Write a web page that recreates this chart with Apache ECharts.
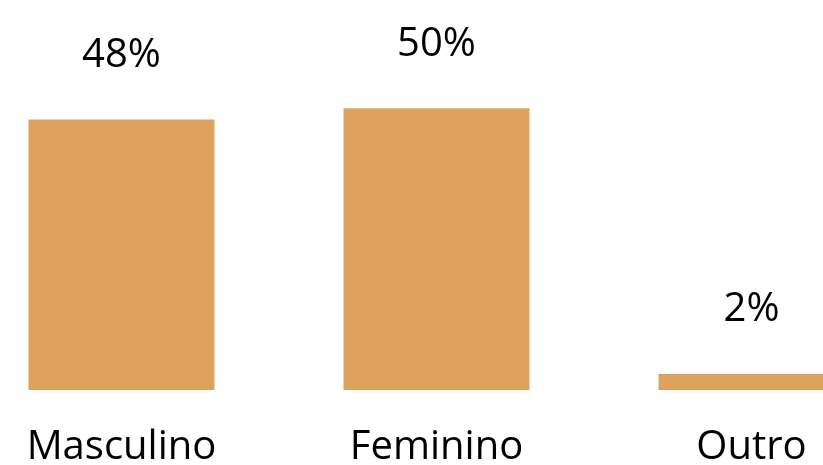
<!DOCTYPE html>
<html>
<head>
<meta charset="utf-8">
<script src="https://cdn.jsdelivr.net/npm/echarts@6/dist/echarts.min.js"></script>
<style>
html,body{margin:0;padding:0;background:#fff;}
#chart{width:823px;height:465px;}
</style>
</head>
<body>
<div id="chart"></div>
<script>
const categories = ['Masculino', 'Feminino', 'Outro'];
const values = [48, 50, 2];

const chart = echarts.init(document.getElementById('chart'));
chart.setOption({
  backgroundColor: '#ffffff',
  animation: false,
  grid: { left: -36, width: 945, top: 52, bottom: 75, containLabel: false, outerBoundsMode: 'none' },
  xAxis: {
    type: 'category',
    data: categories,
    axisLine: { show: false },
    axisTick: { show: false },
    axisLabel: {
      color: '#000000',
      fontFamily: 'Open Sans',
      fontSize: 40,
      margin: 38,
      interval: 0
    }
  },
  yAxis: {
    type: 'value',
    min: 0,
    max: 60,
    show: false,
    splitLine: { show: false }
  },
  series: [{
    type: 'bar',
    data: values,
    barWidth: 186,
    barMinHeight: 16,
    itemStyle: { color: '#DCA25E' },
    label: {
      show: true,
      position: 'top',
      distance: 44,
      color: '#000000',
      fontFamily: 'Open Sans',
      fontSize: 40,
      formatter: p => p.value + '%'
    }
  }]
});
</script>
</body>
</html>
